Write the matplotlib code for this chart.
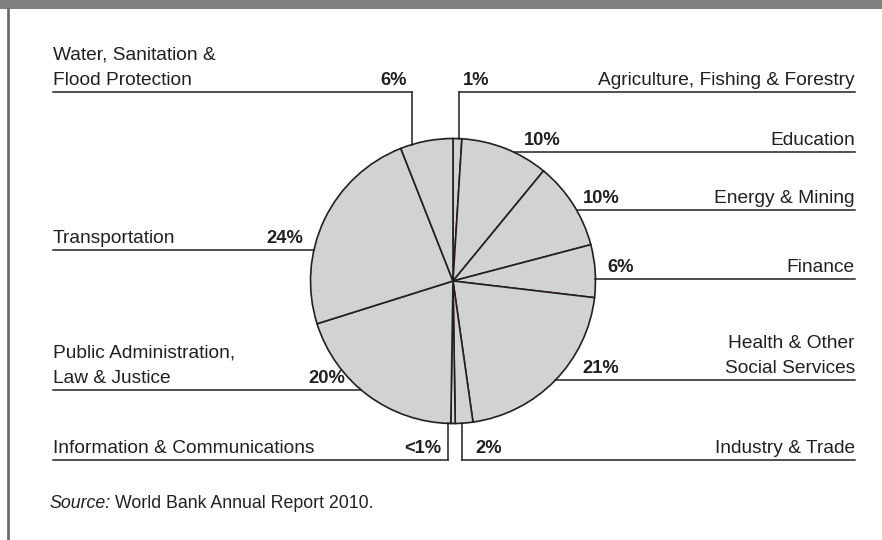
import numpy as np
import matplotlib
matplotlib.use("Agg")
import matplotlib.pyplot as plt
from matplotlib import font_manager as fm

# Sector shares (percent)
sectors = [
    "Agriculture, Fishing & Forestry",
    "Education",
    "Energy & Mining",
    "Finance",
    "Health & Other\nSocial Services",
    "Industry & Trade",
    "Information & Communications",
    "Public Administration,\nLaw & Justice",
    "Transportation",
    "Water, Sanitation &\nFlood Protection",
]
shares = [1, 10, 10, 6, 21, 2, 0.5, 20, 24, 6]
share_labels = ["1%", "10%", "10%", "6%", "21%", "2%", "<1%", "20%", "24%", "6%"]
source_note = "World Bank Annual Report 2010."

W, H = 882, 540
available = {f.name for f in fm.fontManager.ttflist}
family = "Liberation Sans Narrow" if "Liberation Sans Narrow" in available else "Liberation Sans"
plt.rcParams["font.family"] = [family, "DejaVu Sans"]

INK = "#231f20"
FILL = "#d1d2d4"
FS = 13.8
PCT_FS = 13.2

fig = plt.figure(figsize=(W / 100, H / 100), dpi=100)
ax = fig.add_axes([0, 0, 1, 1])
ax.set_xlim(0, W)
ax.set_ylim(0, H)
ax.axis("off")


def Y(y):
    return H - y


# frame: top band and left rule
ax.add_patch(plt.Rectangle((0, Y(9)), W, 9, color="#808080", lw=0))
ax.plot([8, 8], [Y(9), 0], color="#6d6d6d", lw=2)

cx, cy, R = 453, Y(281), 142.5
ax.pie(shares, center=(cx, cy), radius=R, startangle=90, counterclock=False,
       colors=[FILL] * len(shares),
       wedgeprops=dict(edgecolor=INK, linewidth=1.2, antialiased=True))
ax.set_xlim(0, W)
ax.set_ylim(0, H)
ax.set_aspect("equal")


def circle_x(yline, side):
    dy = yline - cy
    dx = np.sqrt(max(R * R - dy * dy, 0))
    return cx + side * dx


def circle_y(xline, side):
    dx = xline - cx
    dy = np.sqrt(max(R * R - dx * dx, 0))
    return cy + side * dy


LW = 1.1
RIGHT_END = 855
LEFT_START = 53
LSP = 1.62

# right-hand labels: (index, underline y, kind, pct x)
right = [
    (0, 92, ("vert", 459), 463),
    (1, 152, ("arc",), 524),
    (2, 210, ("arc",), 583),
    (3, 279, ("arc",), 607),
    (4, 380, ("arc",), 582),
    (5, 460, ("vertdown", 462), 475),
]
for i, yl, kind, px in right:
    yd = Y(yl)
    if kind[0] == "arc":
        x0 = circle_x(yd, 1)
        ax.plot([x0, RIGHT_END], [yd, yd], color=INK, lw=LW)
    else:
        xv = kind[1]
        side = 1 if kind[0] == "vert" else -1
        ax.plot([xv, xv], [circle_y(xv, side), yd], color=INK, lw=LW)
        ax.plot([xv, RIGHT_END], [yd, yd], color=INK, lw=LW)
    ax.text(RIGHT_END, yd + 7, sectors[i], ha="right", va="baseline",
            fontsize=FS, color=INK, linespacing=LSP)
    ax.text(px, yd + 7, share_labels[i], ha="left", va="baseline",
            fontsize=PCT_FS, color=INK, fontweight="bold")

# left-hand labels: (index, underline y, kind, pct right x)
left = [
    (9, 92, ("vert", 412), 407),
    (8, 250, ("arc",), 303),
    (7, 390, ("arc",), 345),
    (6, 460, ("vertdown", 448), 441),
]
for i, yl, kind, px in left:
    yd = Y(yl)
    if kind[0] == "arc":
        x1 = circle_x(yd, -1)
        ax.plot([LEFT_START, x1], [yd, yd], color=INK, lw=LW)
    else:
        xv = kind[1]
        side = 1 if kind[0] == "vert" else -1
        ax.plot([xv, xv], [circle_y(xv, side), yd], color=INK, lw=LW)
        ax.plot([LEFT_START, xv], [yd, yd], color=INK, lw=LW)
    ax.text(LEFT_START, yd + 7, sectors[i], ha="left", va="baseline",
            fontsize=FS, color=INK, linespacing=LSP)
    ax.text(px, yd + 7, share_labels[i], ha="right", va="baseline",
            fontsize=PCT_FS, color=INK, fontweight="bold")

# source line
SRC_FS = 12.8
t = ax.text(50, Y(508), "Source:", ha="left", va="baseline", fontsize=SRC_FS,
            color=INK, style="italic")
fig.canvas.draw()
bb = t.get_window_extent()
ax.text(bb.x1 + 4, Y(508), source_note, ha="left", va="baseline",
        fontsize=SRC_FS, color=INK)

fig.savefig("out.png", dpi=100)
